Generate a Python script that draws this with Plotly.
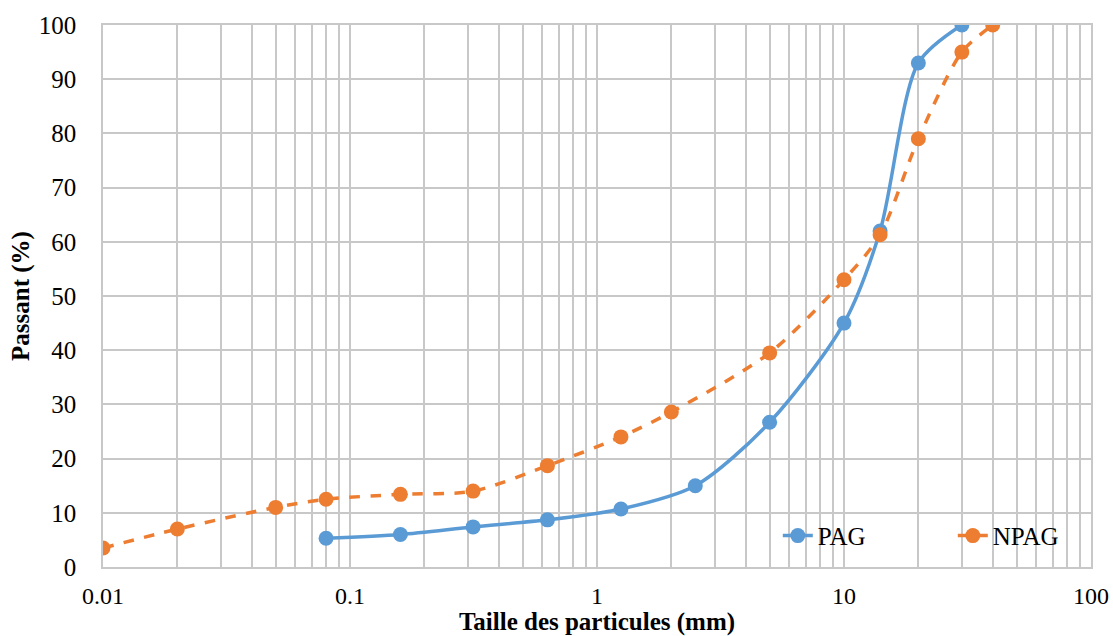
import plotly.graph_objects as go

# Data
pag_x = [0.08, 0.16, 0.315, 0.63, 1.25, 2.5, 5, 10, 14, 20, 30]
pag_y = [5.3, 6.0, 7.4, 8.7, 10.7, 15.0, 26.7, 45.0, 62.0, 93.0, 100.0]

npag_x = [0.01, 0.02, 0.05, 0.08, 0.16, 0.315, 0.63, 1.25, 2, 5, 10, 14, 20, 30, 40]
npag_y = [3.5, 7.0, 11.0, 12.5, 13.4, 14.0, 18.7, 24.0, 28.6, 39.5, 53.0, 61.3, 79.0, 95.0, 100.0]

x_tick_vals = [m * 10 ** e for e in range(-2, 2) for m in range(1, 10)] + [100]
x_tick_text = [("%g" % (m * 10 ** e)) if m == 1 else "" for e in range(-2, 2) for m in range(1, 10)] + ["100"]
y_tick_vals = list(range(0, 101, 10))

BLUE = "#5B9BD5"
ORANGE = "#ED7D31"
GRID = "#C8C8C8"
FONT = "Liberation Serif"

fig = go.Figure()
fig.add_trace(go.Scatter(
    x=pag_x, y=pag_y, name="PAG", mode="lines+markers",
    line=dict(color=BLUE, width=3.5, shape="spline", smoothing=0.8),
    marker=dict(color=BLUE, size=15),
))
fig.add_trace(go.Scatter(
    x=npag_x, y=npag_y, name="NPAG", mode="lines+markers",
    line=dict(color=ORANGE, width=3.5, dash="dash", shape="spline", smoothing=0.8),
    marker=dict(color=ORANGE, size=15),
))

fig.update_layout(
    width=1113, height=636,
    margin=dict(l=103, r=22, t=25, b=69, autoexpand=False),
    paper_bgcolor="white", plot_bgcolor="white",
    font=dict(family=FONT, size=25, color="black"),
    legend=dict(orientation="h", x=0.683, xanchor="left", y=0.015, yanchor="bottom",
                bgcolor="rgba(0,0,0,0)", font=dict(size=25),
                entrywidth=130, entrywidthmode="pixels"),
    showlegend=True,
)
fig.update_xaxes(
    type="log", range=[-2, 2],
    tickvals=x_tick_vals, ticktext=x_tick_text,
    showgrid=True, gridcolor=GRID, gridwidth=1.5,
    showline=True, linecolor=GRID, linewidth=1.5, mirror=True,
    ticks="", zeroline=False, ticklabelstandoff=6,
    title=dict(text="<b>Taille des particules (mm)</b>", font=dict(size=25), standoff=8),
    tickfont=dict(size=24),
)
fig.update_yaxes(
    range=[0, 100], tickvals=y_tick_vals,
    showgrid=True, gridcolor=GRID, gridwidth=1.5,
    showline=True, linecolor=GRID, linewidth=1.5, mirror=True,
    ticks="", zeroline=False, ticklabelstandoff=20,
    title=dict(text="<b>Passant (%)</b>", font=dict(size=25), standoff=2),
    tickfont=dict(size=25),
)

fig.write_html("out.html")
